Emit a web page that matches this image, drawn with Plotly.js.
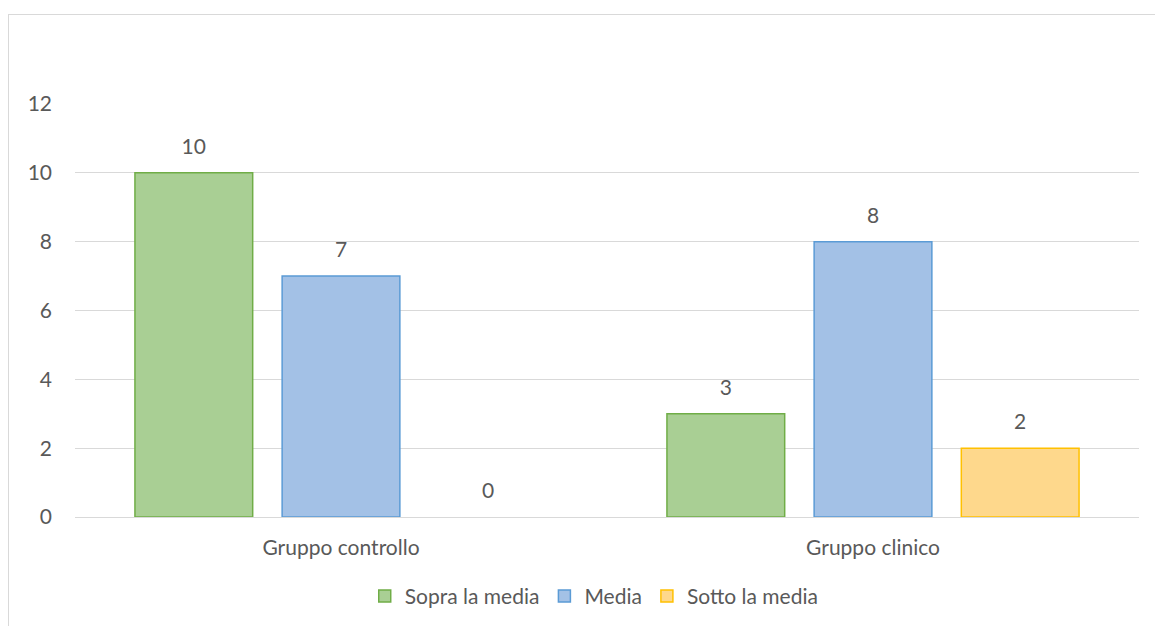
<!DOCTYPE html>
<html>
<head>
<meta charset="utf-8">
<script src="https://cdn.plot.ly/plotly-3.0.1.min.js"></script>
<style>
  html, body { margin: 0; padding: 0; background: #ffffff; }
  #frame { position: absolute; left: 8px; top: 14px; width: 1160px; height: 640px; border: 1px solid #d9d9d9; box-sizing: border-box; }
  #chart { position: absolute; left: 0; top: 0; width: 1155px; height: 626px; }
</style>
</head>
<body>
<div id="frame"></div>
<div id="chart"></div>
<script>
const categories = ["Gruppo controllo", "Gruppo clinico"];
const seriesNames = ["Sopra la media", "Media", "Sotto la media"];
const sopraLaMedia = [10, 3];
const media = [7, 8];
const sottoLaMedia = [0, 2];
const yTicks = [0, 2, 4, 6, 8, 10, 12];

const seriesValues = [sopraLaMedia, media, sottoLaMedia];
const fills = ["#a9cf94", "#a3c1e6", "#fed88c"];
const borders = ["#70ad47", "#5b9bd5", "#ffc000"];
const fontFam = "Lato, 'Open Sans', sans-serif";
const textColor = "#595959";
const fs = 21;

const traces = [];
// legend entries (no drawn bars, share the slot of the real series)
seriesValues.forEach((vals, i) => {
  traces.push({
    type: "bar",
    name: seriesNames[i],
    x: categories,
    y: vals.map(() => null),
    offsetgroup: "g" + i,
    marker: { color: fills[i], line: { color: borders[i], width: 1.5 } },
    showlegend: true,
    hoverinfo: "skip"
  });
});
seriesValues.forEach((vals, i) => {
  traces.push({
    type: "bar",
    name: seriesNames[i],
    x: categories,
    y: vals,
    offsetgroup: "g" + i,
    marker: { color: fills[i], line: { color: borders[i], width: vals.map(v => v === 0 ? 0 : 1.5) } },
    showlegend: false,
    hoverinfo: "skip"
  });
});
seriesValues.forEach((vals, i) => {
  traces.push({
    type: "scatter",
    mode: "markers+text",
    x: categories,
    y: vals,
    offsetgroup: "g" + i,
    text: vals.map(String),
    textposition: "top center",
    textfont: { family: fontFam, size: fs, color: textColor },
    marker: { size: 20, opacity: 0 },
    showlegend: false,
    cliponaxis: false,
    hoverinfo: "skip"
  });
});

const layout = {
  width: 1155,
  height: 626,
  margin: { l: 75, r: 16, t: 104, b: 109, autoexpand: false },
  paper_bgcolor: "rgba(0,0,0,0)",
  plot_bgcolor: "rgba(0,0,0,0)",
  barmode: "group",
  scattermode: "group",
  bargap: 0.17,
  bargroupgap: 0.2,
  font: { family: fontFam, size: fs, color: textColor },
  xaxis: {
    type: "category",
    showgrid: false,
    zeroline: false,
    showline: false,
    ticks: "",
    ticklabelstandoff: 16,
    tickfont: { family: fontFam, size: fs, color: textColor }
  },
  yaxis: {
    range: [0, 12],
    tickvals: yTicks,
    ticktext: yTicks.map(String),
    showgrid: true,
    gridcolor: "#d9d9d9",
    gridwidth: 1,
    zeroline: true,
    zerolinecolor: "#d9d9d9",
    zerolinewidth: 1,
    showline: false,
    ticks: "",
    ticklabelstandoff: 22,
    tickfont: { family: fontFam, size: fs, color: textColor }
  },
  legend: {
    orientation: "h",
    x: 0.488,
    xanchor: "center",
    y: -0.192,
    yanchor: "middle",
    font: { family: fontFam, size: fs, color: textColor },
    itemwidth: 30,
    tracegroupgap: 0
  },
  showlegend: true
};

Plotly.newPlot("chart", traces, layout, { displayModeBar: false, staticPlot: true });
</script>
</body>
</html>
